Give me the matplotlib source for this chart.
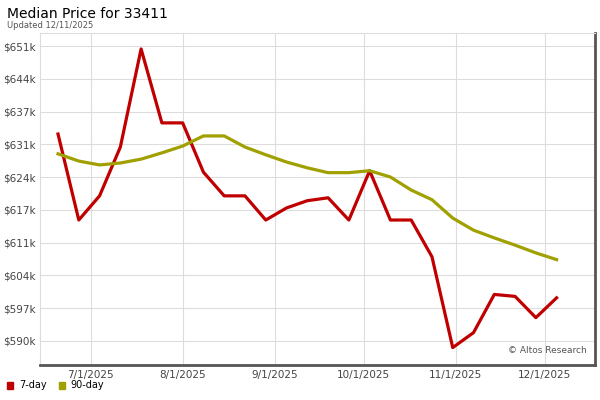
import numpy as np
import pandas as pd
import matplotlib
matplotlib.use("Agg")
import matplotlib.pyplot as plt

dates = pd.date_range("2025-06-20", periods=25, freq="7D")
price_7day = [632.8, 615.0, 620.0, 630.1, 650.4, 635.1, 635.1, 624.9, 620.0, 620.0,
              615.0, 617.5, 619.0, 619.6, 615.0, 625.2, 615.0, 615.0, 607.4, 588.6,
              591.7, 599.6, 599.2, 594.8, 598.9]
price_90day = [628.7, 627.2, 626.4, 626.8, 627.6, 628.9, 630.3, 632.4, 632.4, 630.1,
               628.5, 627.0, 625.8, 624.8, 624.8, 625.2, 623.9, 621.2, 619.2, 615.4,
               612.9, 611.3, 609.8, 608.2, 606.8]
ytick_labels = ["$590k", "$597k", "$604k", "$611k", "$617k",
                "$624k", "$631k", "$637k", "$644k", "$651k"]
xtick_dates = pd.to_datetime(["2025-07-01", "2025-08-01", "2025-09-01",
                              "2025-10-01", "2025-11-01", "2025-12-01"])

RED = "#c00000"
OLIVE = "#a0a000"

fig = plt.figure(figsize=(6, 4), dpi=100)
ax = fig.add_axes([0.067, 0.0875, 0.925, 0.83])
ax.plot(dates, price_7day, color=RED, lw=2.3)
ax.plot(dates, price_90day, color=OLIVE, lw=2.3)

yt = np.linspace(590, 651, 10)
ax.set_yticks(yt)
ax.set_yticklabels(ytick_labels)
ax.set_ylim(585, 653.7)
ax.set_xticks(xtick_dates)
ax.set_xticklabels([f"{d.month}/1/2025" for d in xtick_dates])
ax.set_xlim(pd.Timestamp("2025-06-14"), pd.Timestamp("2025-12-18"))
ax.grid(True, color="#dddddd", lw=0.8)
ax.tick_params(labelsize=7.5, colors="#444444", length=0)
for s in ["top", "left"]:
    ax.spines[s].set_color("#dddddd")
for s in ["bottom", "right"]:
    ax.spines[s].set_color("#555555")
    ax.spines[s].set_linewidth(2)

ax.text(0.985, 0.03, "© Altos Research", transform=ax.transAxes,
        ha="right", va="bottom", fontsize=6.5, color="#555555")
fig.text(0.012, 0.965, "Median Price for 33411", fontsize=10, va="center")
fig.text(0.012, 0.937, "Updated 12/11/2025", fontsize=6, color="#555555", va="center")

fig.patches.append(plt.Rectangle((0.012, 0.028), 0.01, 0.018, color=RED, transform=fig.transFigure))
fig.text(0.032, 0.037, "7-day", fontsize=7, va="center")
fig.patches.append(plt.Rectangle((0.098, 0.028), 0.01, 0.018, color=OLIVE, transform=fig.transFigure))
fig.text(0.118, 0.037, "90-day", fontsize=7, va="center")

fig.savefig("out.png", dpi=100)
